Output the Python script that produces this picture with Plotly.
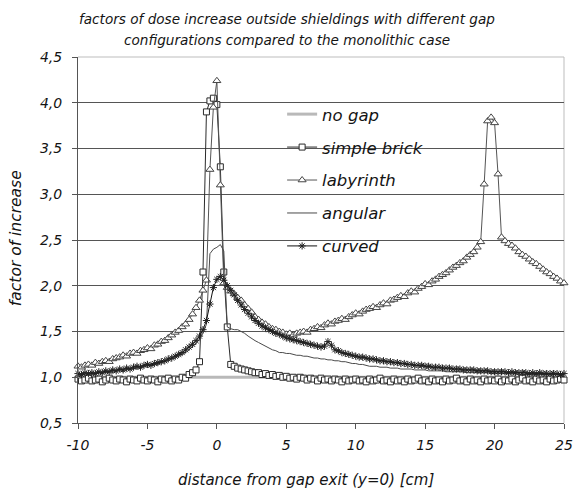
import plotly.graph_objects as go

# distance from the gap exit, 0.25 cm steps from -10 to 25 cm
x_cm = [round(-10 + 0.25 * i, 2) for i in range(141)]

no_gap_x = [-10, 25]
no_gap = [1.0, 1.0]

simple_brick = [
    0.98, 0.96, 0.97, 0.99, 0.96, 0.97, 0.98, 0.95, 0.97, 0.99, 0.97, 0.96, 0.98, 0.97, 0.95, 0.98, 0.97, 0.96, 0.99, 0.97,
    0.96, 0.98, 0.97, 0.95, 0.98, 0.97, 0.99, 0.96, 0.98, 0.97, 1.00, 0.99, 1.03, 1.05, 1.08, 1.17, 2.15, 3.90, 4.02, 4.05,
    3.98, 3.30, 2.15, 1.55, 1.14, 1.12, 1.10, 1.09, 1.08, 1.07, 1.06, 1.05, 1.05, 1.03, 1.04, 1.02, 1.03, 1.01, 1.02, 1.00,
    1.01, 0.99, 1.00, 0.98, 1.00, 0.99, 0.97, 0.99, 0.98, 0.96, 0.99, 0.97, 0.98, 0.96, 0.98, 0.97, 0.95, 0.98, 0.96, 0.97,
    0.98, 0.96, 0.97, 0.95, 0.98, 0.96, 0.97, 0.99, 0.96, 0.97, 0.95, 0.98, 0.96, 0.97, 0.95, 0.98, 0.96, 0.97, 0.99, 0.96,
    0.97, 0.95, 0.98, 0.96, 0.97, 0.95, 0.98, 0.96, 0.97, 0.99, 0.96, 0.97, 0.95, 0.98, 0.96, 0.97, 0.95, 0.98, 0.96, 0.97,
    0.96, 0.98, 0.95, 0.97, 0.96, 0.98, 0.95, 0.97, 0.99, 0.96, 0.97, 0.95, 0.98, 0.96, 0.97, 0.95, 0.98, 0.96, 0.97, 0.98,
    0.97,
]

labyrinth = [
    1.12, 1.11, 1.13, 1.14, 1.13, 1.16, 1.15, 1.17, 1.18, 1.17, 1.20, 1.21, 1.22, 1.24, 1.23, 1.26, 1.27, 1.26, 1.29, 1.30,
    1.32, 1.31, 1.35, 1.36, 1.39, 1.40, 1.43, 1.46, 1.49, 1.51, 1.55, 1.58, 1.63, 1.69, 1.76, 1.84, 1.95, 2.06, 3.27, 3.95,
    4.24, 3.10, 2.03, 1.98, 1.94, 1.91, 1.87, 1.84, 1.79, 1.75, 1.71, 1.66, 1.63, 1.60, 1.58, 1.55, 1.53, 1.52, 1.50, 1.49,
    1.47, 1.48, 1.46, 1.48, 1.49, 1.50, 1.49, 1.52, 1.53, 1.55, 1.54, 1.57, 1.59, 1.58, 1.61, 1.62, 1.64, 1.63, 1.66, 1.68,
    1.70, 1.69, 1.72, 1.74, 1.75, 1.77, 1.76, 1.79, 1.81, 1.80, 1.84, 1.85, 1.87, 1.89, 1.88, 1.92, 1.94, 1.93, 1.97, 1.99,
    2.02, 2.01, 2.05, 2.07, 2.10, 2.12, 2.14, 2.17, 2.20, 2.22, 2.25, 2.27, 2.31, 2.34, 2.37, 2.42, 2.48, 3.11, 3.80, 3.84,
    3.78, 3.22, 2.53, 2.49, 2.46, 2.44, 2.41, 2.37, 2.34, 2.32, 2.29, 2.26, 2.24, 2.21, 2.18, 2.15, 2.13, 2.10, 2.08, 2.05,
    2.03,
]

angular = [
    1.02, 1.03, 1.02, 1.04, 1.03, 1.04, 1.05, 1.04, 1.05, 1.06, 1.05, 1.07, 1.07, 1.06, 1.08, 1.09, 1.09, 1.10, 1.10, 1.12,
    1.12, 1.13, 1.14, 1.14, 1.16, 1.17, 1.18, 1.20, 1.21, 1.23, 1.25, 1.27, 1.30, 1.33, 1.37, 1.42, 1.48, 1.58, 2.35, 2.40,
    2.42, 2.45, 2.38, 1.55, 1.53, 1.52, 1.52, 1.50, 1.48, 1.45, 1.42, 1.40, 1.38, 1.36, 1.34, 1.32, 1.30, 1.29, 1.27, 1.27,
    1.26, 1.26, 1.25, 1.24, 1.24, 1.23, 1.23, 1.22, 1.21, 1.21, 1.20, 1.20, 1.19, 1.19, 1.18, 1.18, 1.17, 1.17, 1.16, 1.15,
    1.15, 1.14, 1.14, 1.13, 1.12, 1.12, 1.12, 1.11, 1.11, 1.11, 1.10, 1.10, 1.10, 1.09, 1.09, 1.09, 1.09, 1.08, 1.08, 1.08,
    1.08, 1.07, 1.07, 1.07, 1.07, 1.07, 1.06, 1.06, 1.06, 1.06, 1.06, 1.06, 1.05, 1.05, 1.05, 1.05, 1.05, 1.05, 1.05, 1.04,
    1.04, 1.04, 1.04, 1.04, 1.04, 1.04, 1.04, 1.03, 1.03, 1.03, 1.03, 1.03, 1.03, 1.03, 1.03, 1.03, 1.03, 1.03, 1.03, 1.02,
    1.02,
]

curved = [
    1.04, 1.03, 1.05, 1.04, 1.05, 1.04, 1.06, 1.05, 1.07, 1.06, 1.08, 1.07, 1.09, 1.08, 1.10, 1.09, 1.11, 1.12, 1.11, 1.13,
    1.14, 1.13, 1.15, 1.16, 1.17, 1.18, 1.20, 1.21, 1.23, 1.25, 1.27, 1.30, 1.33, 1.36, 1.40, 1.45, 1.52, 1.62, 1.80, 1.98,
    2.07, 2.10, 2.06, 2.00, 1.95, 1.90, 1.84, 1.79, 1.74, 1.70, 1.66, 1.62, 1.59, 1.56, 1.54, 1.52, 1.50, 1.48, 1.47, 1.45,
    1.43, 1.42, 1.41, 1.40, 1.39, 1.38, 1.37, 1.36, 1.35, 1.34, 1.33, 1.34, 1.39, 1.35, 1.30, 1.29, 1.27, 1.26, 1.25, 1.24,
    1.23, 1.22, 1.22, 1.21, 1.20, 1.20, 1.19, 1.18, 1.18, 1.17, 1.17, 1.16, 1.16, 1.15, 1.15, 1.14, 1.14, 1.13, 1.13, 1.13,
    1.12, 1.12, 1.11, 1.11, 1.11, 1.10, 1.10, 1.10, 1.09, 1.09, 1.09, 1.08, 1.08, 1.08, 1.08, 1.07, 1.07, 1.07, 1.07, 1.06,
    1.06, 1.06, 1.06, 1.06, 1.05, 1.06, 1.05, 1.05, 1.05, 1.05, 1.04, 1.05, 1.04, 1.05, 1.04, 1.04, 1.04, 1.04, 1.04, 1.03,
    1.04,
]

x_ticks = [-10, -5, 0, 5, 10, 15, 20, 25]
x_tick_labels = ["-10", "-5", "0", "5", "10", "15", "20", "25"]
y_ticks = [0.5, 1.0, 1.5, 2.0, 2.5, 3.0, 3.5, 4.0, 4.5]

title_lines = [
    "factors of dose increase outside shieldings with different gap",
    "configurations compared to the monolithic case",
]
x_title = "distance from gap exit (y=0) [cm]"
y_title = "factor of increase"

FONT = "DejaVu Sans, Verdana, sans-serif"
INK = "#141414"


def ifont(size):
    return dict(family=FONT, size=size, color=INK, style="italic")


fig = go.Figure()

fig.add_trace(go.Scatter(
    x=no_gap_x, y=no_gap, name="no gap", mode="lines",
    line=dict(color="#b9b9b9", width=3), legendgroup="a",
))
fig.add_trace(go.Scatter(
    x=x_cm, y=simple_brick, name="simple brick", mode="lines+markers",
    line=dict(color="#2a2a2a", width=1),
    marker=dict(symbol="square", size=6, color="white", line=dict(color="#2a2a2a", width=1)),
    cliponaxis=False, legendgroup="b",
))
fig.add_trace(go.Scatter(
    x=x_cm, y=labyrinth, name="labyrinth", mode="lines+markers",
    line=dict(color="#555555", width=1),
    marker=dict(symbol="triangle-up", size=7, color="white", line=dict(color="#444444", width=1)),
    cliponaxis=False, legendgroup="c",
))
fig.add_trace(go.Scatter(
    x=x_cm, y=angular, name="angular", mode="lines",
    line=dict(color="#4a4a4a", width=1), legendgroup="d",
))
fig.add_trace(go.Scatter(
    x=x_cm, y=curved, name="curved", mode="lines+markers",
    line=dict(color="#111111", width=1),
    marker=dict(symbol="asterisk-open", size=6, color="#222222", line=dict(color="#222222", width=1)),
    cliponaxis=False, legendgroup="e",
))

fig.update_layout(
    width=582, height=498,
    margin=dict(l=78, r=9, t=57, b=75),
    paper_bgcolor="white", plot_bgcolor="white",
    separators=", ",
    font=ifont(14),
    showlegend=True,
    legend=dict(
        x=0.420, y=0.891, xanchor="left", yanchor="top",
        bgcolor="rgba(0,0,0,0)", borderwidth=0,
        font=ifont(16.5),
        tracegroupgap=8.5, itemwidth=30,
    ),
    xaxis=dict(
        range=[-10, 25], tickvals=x_ticks, ticktext=x_tick_labels,
        showgrid=False, zeroline=False,
        showline=True, linecolor="#555555", linewidth=1,
        ticks="outside", ticklen=5, tickcolor="#555555",
        ticklabelstandoff=4, tickfont=ifont(14),
    ),
    yaxis=dict(
        range=[0.5, 4.5], tickvals=y_ticks, tickformat=".1f",
        showgrid=True, gridcolor="#555555", gridwidth=1, zeroline=False,
        showline=True, linecolor="#555555", linewidth=1,
        ticks="outside", ticklen=5, tickcolor="#555555",
        ticklabelstandoff=7, tickfont=ifont(14),
    ),
    shapes=[
        # white panel behind the legend entries
        dict(type="rect", xref="paper", yref="paper",
             x0=(285 - 78) / 495, x1=(443 - 78) / 495,
             y0=(423 - 262) / 366, y1=(423 - 100) / 366,
             fillcolor="white", line=dict(width=0), layer="between"),
        # light frame on top and right of the plot area
        dict(type="line", xref="paper", yref="paper", x0=0, x1=1, y0=1, y1=1,
             line=dict(color="#bdbdbd", width=1), layer="between"),
        dict(type="line", xref="paper", yref="paper", x0=1, x1=1, y0=0, y1=1,
             line=dict(color="#bdbdbd", width=1), layer="between"),
    ],
    annotations=[
        dict(text=title_lines[0], xref="paper", yref="paper", x=(291 - 78) / 495,
             y=(423 - 19) / 366, xanchor="center", yanchor="middle", showarrow=False,
             font=ifont(13.6)),
        dict(text=title_lines[1], xref="paper", yref="paper", x=(291 - 78) / 495,
             y=(423 - 40) / 366, xanchor="center", yanchor="middle", showarrow=False,
             font=ifont(13.6)),
        dict(text=x_title, xref="paper", yref="paper", x=(310 - 78) / 495,
             y=(423 - 480) / 366, xanchor="center", yanchor="middle", showarrow=False,
             font=ifont(15)),
        dict(text=y_title, xref="paper", yref="paper", x=(15 - 78) / 495,
             y=(423 - 238) / 366, xanchor="center", yanchor="middle", showarrow=False,
             textangle=-90, font=ifont(15.5)),
    ],
)

fig.write_html("out.html")
